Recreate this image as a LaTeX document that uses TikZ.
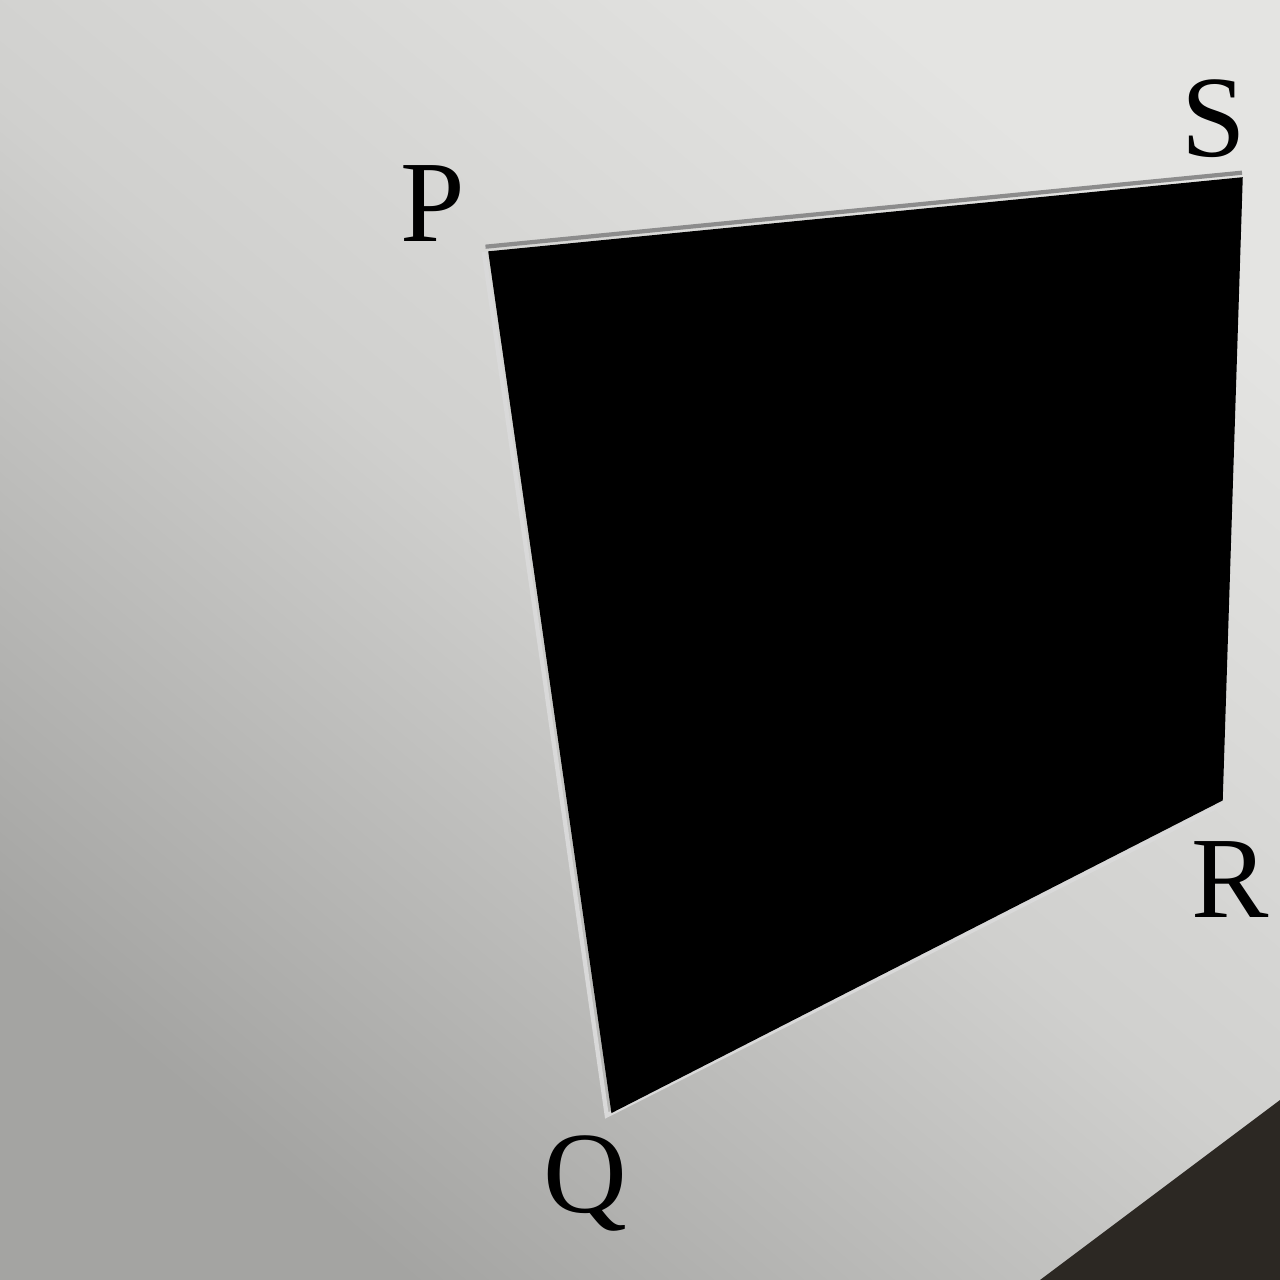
\documentclass[tikz,border=0pt]{standalone}
\usepackage{fontspec}
\setmainfont{LiberationSerif-Regular.ttf}
\usetikzlibrary{positioning}

\definecolor{wallgrey}{HTML}{D0D0CE}
\definecolor{walldark}{HTML}{A4A4A2}
\definecolor{walllight}{HTML}{E4E4E2}
\definecolor{shadowbrown}{HTML}{2C2823}

\begin{document}
\begin{tikzpicture}[
                    corner/.style={font=\fontsize{33}{33}\selectfont, anchor=base, inner sep=0pt},
                    panel/.style={fill=black, draw=black, line join=miter},
                    rim/.style={draw=white!85!black, line width=1.2pt}
                ]
                    % Background
                    \useasboundingbox (0,0) rectangle (12.8,12.8);
                    \shade[top color=walllight, bottom color=walldark, middle color=wallgrey, shading angle=-40]
                        (0,0) rectangle (12.8,12.8);
                    \fill[shadowbrown] (12.8,1.80) -- (10.4,0) -- (12.8,0) -- cycle;

                    % Place corners
                    \coordinate (p) at (4.89,10.28);
                    \coordinate (s) at (12.42,11.02);
                    \coordinate (r) at (12.22,4.80);
                    \coordinate (q) at (6.12,1.68);

                    % Draw rim and panel
                    \path [rim, draw=black!45] ([xshift=-1pt,yshift=1.5pt]p) -- ([yshift=1.5pt]s);
                    \path [rim] ([xshift=-1.5pt]p) -- ([xshift=-1.5pt,yshift=-1pt]q) -- ([yshift=-1.2pt]r);
                    \path [panel] (p) -- (s) -- (r) -- (q) -- cycle;

                    % Place labels
                    \node [corner] (labelP) at (4.33,10.38) {P};
                    \node [corner] (labelS) at (12.14,11.23) {S};
                    \node [corner] (labelR) at (12.30,3.62) {R};
                    \node [corner] (labelQ) at (5.85,0.67) {Q};
            \end{tikzpicture}
\end{document}
